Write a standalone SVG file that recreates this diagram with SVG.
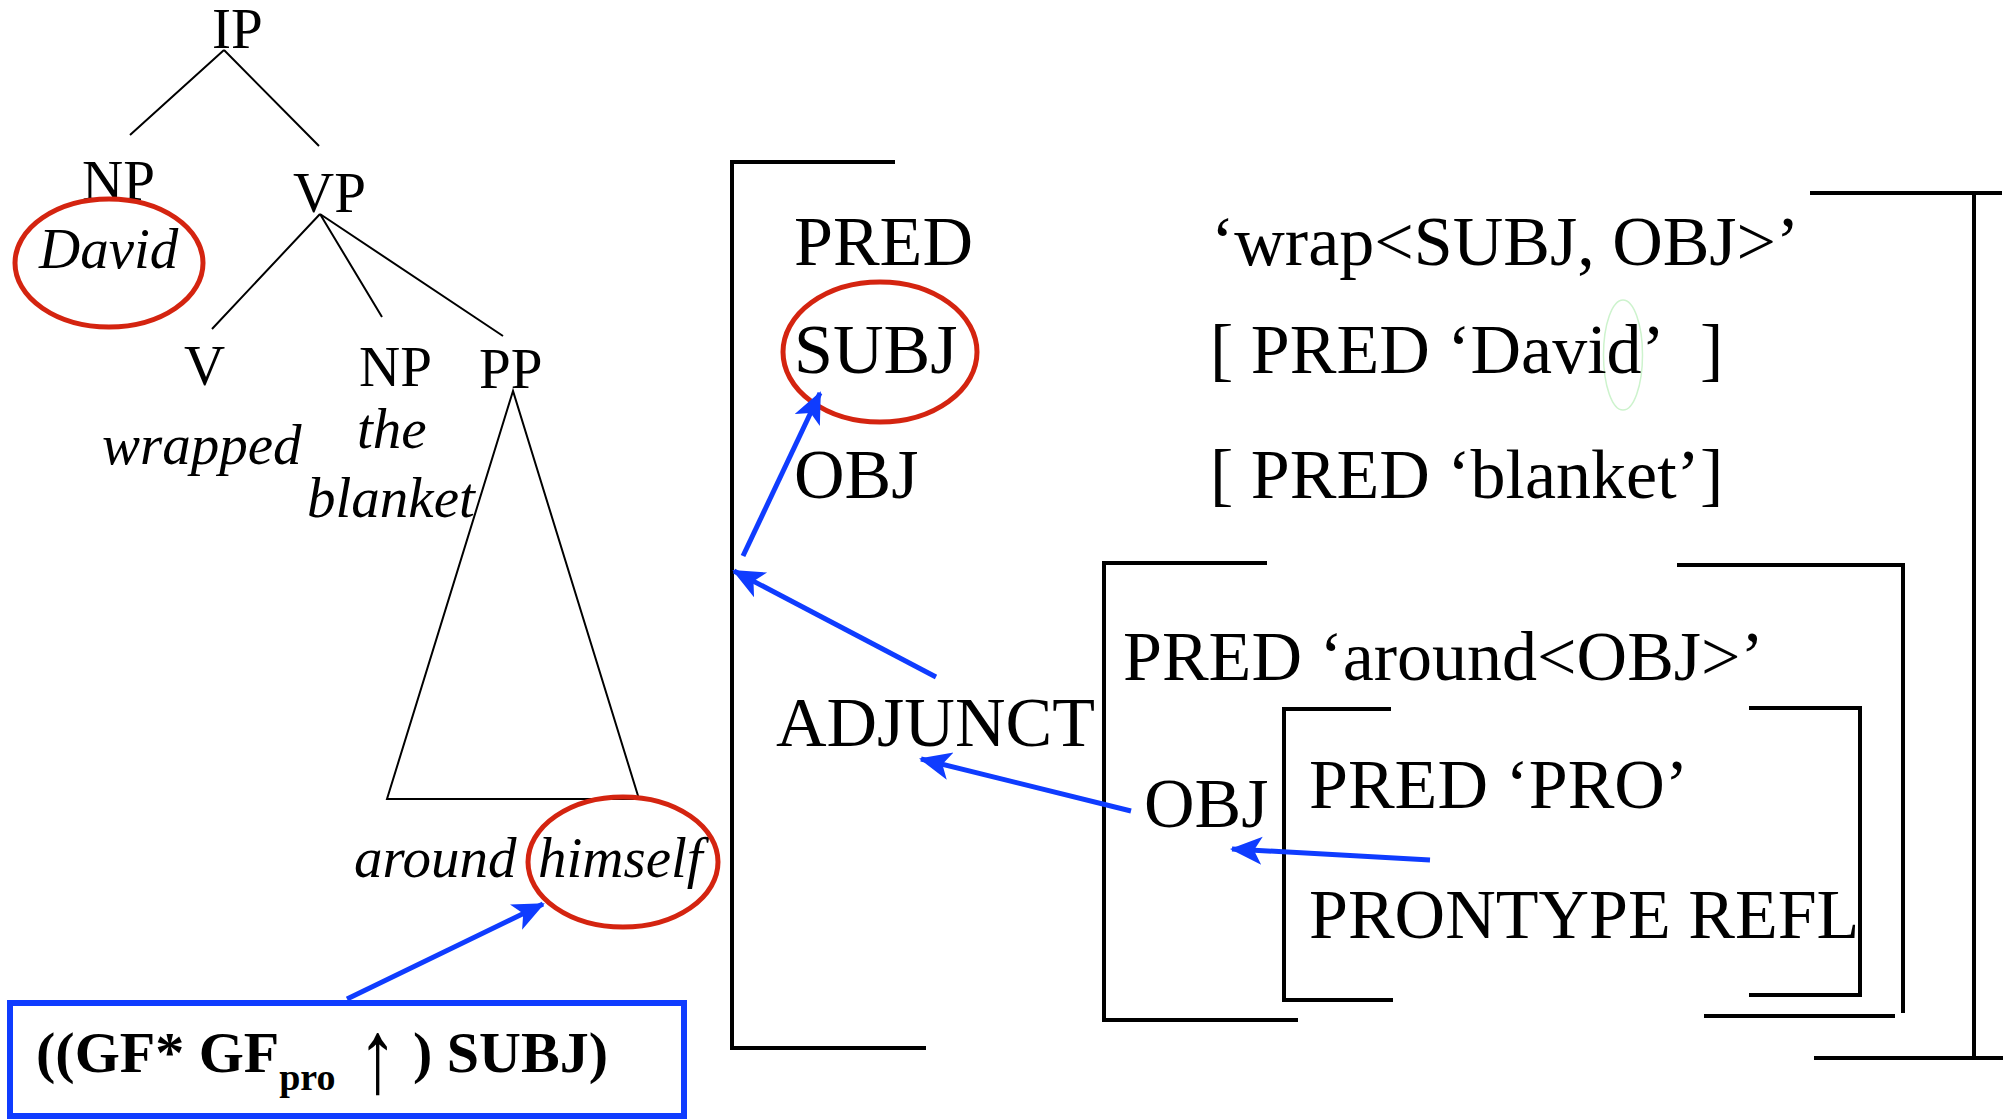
<svg xmlns="http://www.w3.org/2000/svg" width="2011" height="1120" viewBox="0 0 2011 1120">
<defs>
<style>
.t{font-family:"Liberation Serif","Times New Roman",serif;fill:#000}
.tree{font-size:57px}
.it{font-style:italic}
.f{font-size:70px}
.b{font-weight:bold;font-size:58px}
.ln{stroke:#000;stroke-width:2;fill:none}
.br{stroke:#000;stroke-width:4;fill:none}
.red{stroke:#d42410;stroke-width:5;fill:none}
.blue{stroke:#0f3cff;stroke-width:5;fill:none;marker-end:url(#ah)}
</style>
<marker id="ah" markerUnits="userSpaceOnUse" markerWidth="34" markerHeight="30" refX="30" refY="14" orient="auto">
<path d="M0,0 L32,14 L0,28 L8,14 Z" fill="#0f3cff"/>
</marker>
</defs>
<rect width="2011" height="1120" fill="#fff"/>

<g id="tree-lines">
<path class="ln" d="M224,50 L130,135 M224,50 L319,146 M320,214 L212,329 M320,214 L382,317 M320,214 L503,336"/>
<path class="ln" d="M513,391 L387,799 L639,799 Z"/>
</g>
<g id="IP"><text class="t tree" x="212" y="48">IP</text></g>
<g id="NP1"><text class="t tree" x="82" y="200">NP</text><text class="t tree it" x="39" y="268">David</text></g>
<g id="VP"><text class="t tree" x="293" y="212">VP</text></g>
<g id="V"><text class="t tree" x="184" y="385">V</text><text class="t tree it" x="102" y="464">wrapped</text></g>
<g id="NP2"><text class="t tree" x="359" y="386">NP</text><text class="t tree it" x="357" y="448">the</text><text class="t tree it" x="307" y="517">blanket</text></g>
<g id="PP"><text class="t tree" x="479" y="388">PP</text><text class="t tree it" x="354" y="877">around</text><text class="t tree it" x="538" y="877">himself</text></g>

<g id="highlights">
<ellipse class="red" cx="109" cy="263" rx="94" ry="64"/>
<ellipse class="red" cx="623" cy="862" rx="95" ry="65"/>
<ellipse class="red" cx="880" cy="352" rx="97" ry="70"/>
<ellipse cx="1623" cy="355" rx="19.5" ry="55" fill="none" stroke="#cdf3cd" stroke-width="1.5"/>
</g>

<g id="constraint-box">
<rect x="10" y="1003" width="674" height="113" fill="none" stroke="#0f3cff" stroke-width="6"/>
<text class="t b" x="36" y="1072">((GF* GF<tspan font-size="38" dy="18">pro</tspan></text>
<text class="t" transform="translate(358,1092) scale(0.75,1)" x="0" y="0" font-size="105">↑</text>
<text class="t b" x="413" y="1072">) SUBJ)</text>
</g>

<g id="fstructure-outer">
<path class="br" d="M895,162 H732 V1048 H926"/>
<path class="br" d="M1810,193 H2002 M1974,193 V1058 M1814,1058 H2003"/>
<text class="t f" x="794" y="265">PRED</text>
<text class="t f" x="1211" y="265">‘wrap&lt;SUBJ, OBJ&gt;’</text>
<text class="t f" x="794" y="373">SUBJ</text>
<text class="t f" x="1210" y="373">[ PRED ‘David’<tspan x="1700">]</tspan></text>
<text class="t f" x="794" y="498">OBJ</text>
<text class="t f" x="1210" y="498">[ PRED ‘blanket’]</text>
<text class="t f" x="776" y="746">ADJUNCT</text>
</g>

<g id="fstructure-adjunct">
<path class="br" d="M1267,563 H1104 V1020 H1298"/>
<path class="br" d="M1677,565 H1903 V1013 M1704,1016 H1895"/>
<text class="t f" x="1123" y="680">PRED  ‘around&lt;OBJ&gt;’</text>
<text class="t f" x="1144" y="827">OBJ</text>
</g>

<g id="fstructure-obj">
<path class="br" d="M1391,709 H1284 V1000 H1393"/>
<path class="br" d="M1749,708 H1860 V995 H1749"/>
<text class="t f" x="1309" y="808">PRED ‘PRO’</text>
<text class="t f" x="1309" y="938">PRONTYPE REFL</text>
</g>

<g id="connectors">
<path class="blue" stroke-width="4" d="M347,999 L543,904"/>
<path class="blue" d="M743,556 L820,393"/>
<path class="blue" d="M936,677 L734,571"/>
<path class="blue" d="M1131,811 L921,759"/>
<path class="blue" d="M1430,860 L1232,849"/>
</g>
</svg>
